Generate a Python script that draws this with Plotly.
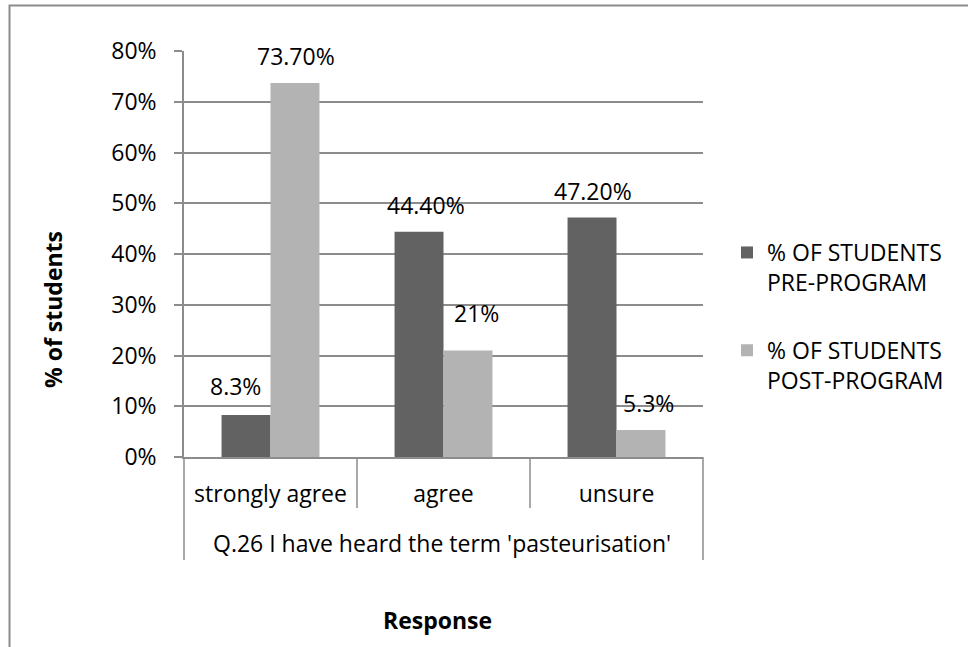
import plotly.graph_objects as go

# Survey responses (percent of students)
responses = ["strongly agree", "agree", "unsure"]
pre_program = [8.3, 44.4, 47.2]
post_program = [73.7, 21.0, 5.3]
pre_labels = ["8.3%", "44.40%", "47.20%"]
post_labels = ["73.70%", "21%", "5.3%"]
y_ticks = [0, 10, 20, 30, 40, 50, 60, 70, 80]
y_tick_text = ["0%", "10%", "20%", "30%", "40%", "50%", "60%", "70%", "80%"]
question = "Q.26 I have heard the term 'pasteurisation'"

FONT = "Open Sans"
FS = 23
GRID = "#8c8c8c"
W, H = 968, 647
ML, MR, MT, MB = 184, 265, 51, 190
PW, PH = W - ML - MR, H - MT - MB


def px_x(px):
    return (px - ML) / PW


def px_y(py):
    return (H - MB - py) / PH


fig = go.Figure()
fig.add_trace(go.Bar(
    x=responses, y=pre_program, name="% OF STUDENTS<br>PRE-PROGRAM",
    marker=dict(color="#626262", line=dict(width=0)), legendgroup="pre",
))
fig.add_trace(go.Bar(
    x=responses, y=post_program, name="% OF STUDENTS<br>POST-PROGRAM",
    marker=dict(color="#b3b3b3", line=dict(width=0)), legendgroup="post",
))

# value labels placed above each bar
pre_shift = [(-35, 29), (-18, 27), (-24, 26)]
post_shift = [(25, 27), (33, 37), (32, 27)]
annotations = []
for vals, labels, shifts in ((pre_program, pre_labels, pre_shift),
                             (post_program, post_labels, post_shift)):
    for cat, v, t, (dx, dy) in zip(responses, vals, labels, shifts):
        annotations.append(dict(
            x=cat, y=v, xref="x", yref="y", text=t, showarrow=False,
            xanchor="center", yanchor="middle", xshift=dx, yshift=dy,
            font=dict(family=FONT, size=FS, color="#000"),
        ))

annotations += [
    dict(x=px_x(442), y=px_y(543), xref="paper", yref="paper", text=question,
         showarrow=False, xanchor="center", yanchor="middle",
         font=dict(family=FONT, size=FS, color="#000")),
    dict(x=px_x(437), y=px_y(620), xref="paper", yref="paper", text="<b>Response</b>",
         showarrow=False, xanchor="center", yanchor="middle",
         font=dict(family=FONT, size=FS, color="#000")),
    dict(x=px_x(53), y=px_y(310), xref="paper", yref="paper", text="<b>% of students</b>",
         showarrow=False, xanchor="center", yanchor="middle", textangle=-90,
         font=dict(family=FONT, size=FS, color="#000")),
]

# category separators below the axis and the chart-area frame
shapes = []
for i, fx in enumerate([0, 1 / 3, 2 / 3, 1]):
    bottom = 560 if i in (0, 3) else 508
    shapes.append(dict(type="line", xref="x domain", yref="paper",
                       x0=fx, x1=fx, y0=0, y1=px_y(bottom),
                       line=dict(color=GRID, width=1.5)))
shapes.append(dict(type="rect", xref="paper", yref="paper",
                   x0=px_x(9.5), x1=px_x(1100), y0=px_y(5.5), y1=px_y(700),
                   line=dict(color=GRID, width=2), fillcolor="rgba(0,0,0,0)",
                   layer="below"))

fig.update_layout(
    width=W, height=H,
    margin=dict(l=ML, r=MR, t=MT, b=MB, pad=0),
    paper_bgcolor="white", plot_bgcolor="white",
    barmode="group", bargap=0.434, bargroupgap=0,
    font=dict(family=FONT, size=FS, color="#000"),
    showlegend=True,
    legend=dict(x=px_x(727), y=px_y(231), xanchor="left", yanchor="top",
                valign="top", traceorder="grouped", tracegroupgap=35,
                font=dict(family=FONT, size=FS, color="#000"),
                bgcolor="rgba(0,0,0,0)"),
    xaxis=dict(type="category", range=[-0.5, 2.5], showgrid=False,
               showline=True, linecolor=GRID, linewidth=1.5,
               ticks="", ticklabelstandoff=16,
               tickfont=dict(family=FONT, size=FS, color="#000")),
    yaxis=dict(range=[0, 80], tickvals=y_ticks, ticktext=y_tick_text,
               showgrid=True, gridcolor=GRID, gridwidth=1.5,
               zeroline=False, showline=True, linecolor=GRID, linewidth=1.5,
               ticks="outside", ticklen=8, tickcolor=GRID, tickwidth=1.5,
               ticklabelstandoff=13,
               tickfont=dict(family=FONT, size=FS, color="#000")),
    annotations=annotations, shapes=shapes,
)

fig.write_html("out.html")
